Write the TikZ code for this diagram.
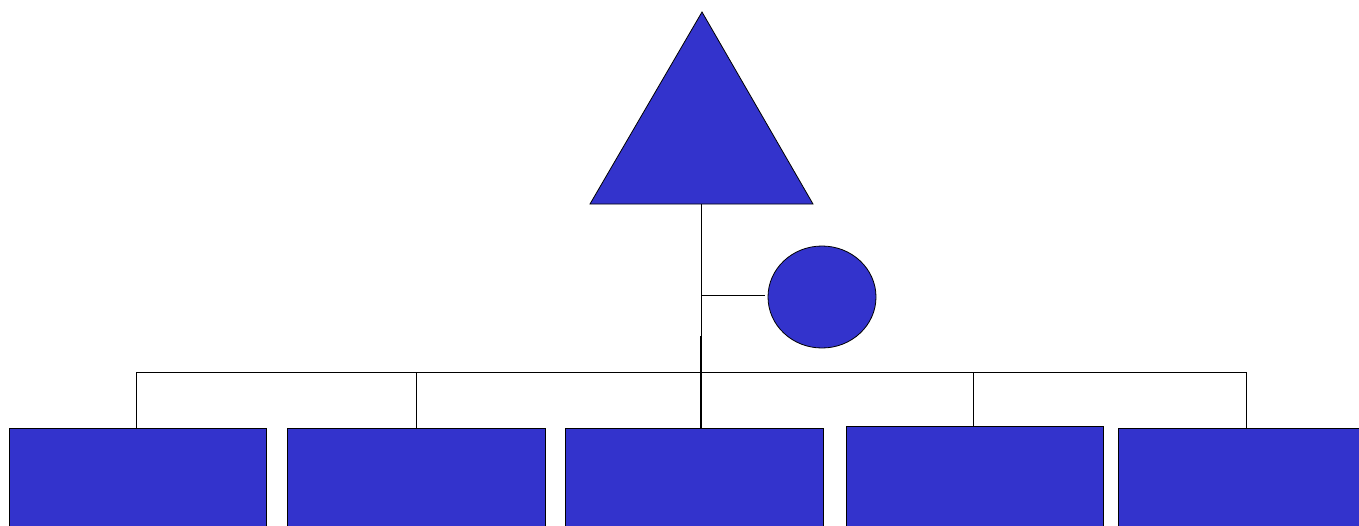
\documentclass[tikz,border=0pt]{standalone}
\usetikzlibrary{shapes.geometric}
\definecolor{fillblue}{HTML}{3333CC}
\begin{document}
\begin{tikzpicture}[x=1pt,y=-1pt,
  shapebox/.style={draw=black, fill=fillblue, line width=0.8pt},
  boxnode/.style={shapebox, rectangle, anchor=north west, inner sep=0pt, minimum height=130pt},
  link/.style={draw=black, line width=0.8pt}]
\useasboundingbox (0,0) rectangle (1359,525);
\clip (0,0) rectangle (1359,525);
% triangle
\coordinate (apex) at (702,12);
\coordinate (tl) at (590,204);
\coordinate (tr) at (813,204);
\draw[shapebox] (apex) -- (tl) -- (tr) -- cycle;
\coordinate (tb) at (701,204);
% circle
\node[shapebox, ellipse, inner sep=0pt, minimum width=108pt, minimum height=102pt] (circ) at (822,297) {};
% boxes
\node[boxnode, minimum width=257pt] (b1) at (9,428) {};
\node[boxnode, minimum width=258pt] (b2) at (287,428) {};
\node[boxnode, minimum width=258pt] (b3) at (565,428) {};
\node[boxnode, minimum width=257pt] (b4) at (846,426) {};
\node[boxnode, minimum width=262pt] (b5) at (1118,428) {};
% connectors
\coordinate (j) at (701,295);
\coordinate (ce) at (765,295);
\draw[link] (tb) -- (tb |- b3.north);
\coordinate (tb2) at (700,336);
\draw[link] (tb2) -- (tb2 |- b3.north);
\draw[link] (j) -- (ce);
\coordinate (busL) at (136.7,372);
\coordinate (bus2) at (416,372);
\coordinate (bus4) at (973,372);
\coordinate (busR) at (1246,372);
\draw[link] (busL) -- (busR);
\draw[link] (busL) -- (busL |- b1.north);
\draw[link] (bus2) -- (bus2 |- b2.north);
\draw[link] (bus4) -- (bus4 |- b4.north);
\draw[link] (busR) -- (busR |- b5.north);
\end{tikzpicture}
\end{document}
